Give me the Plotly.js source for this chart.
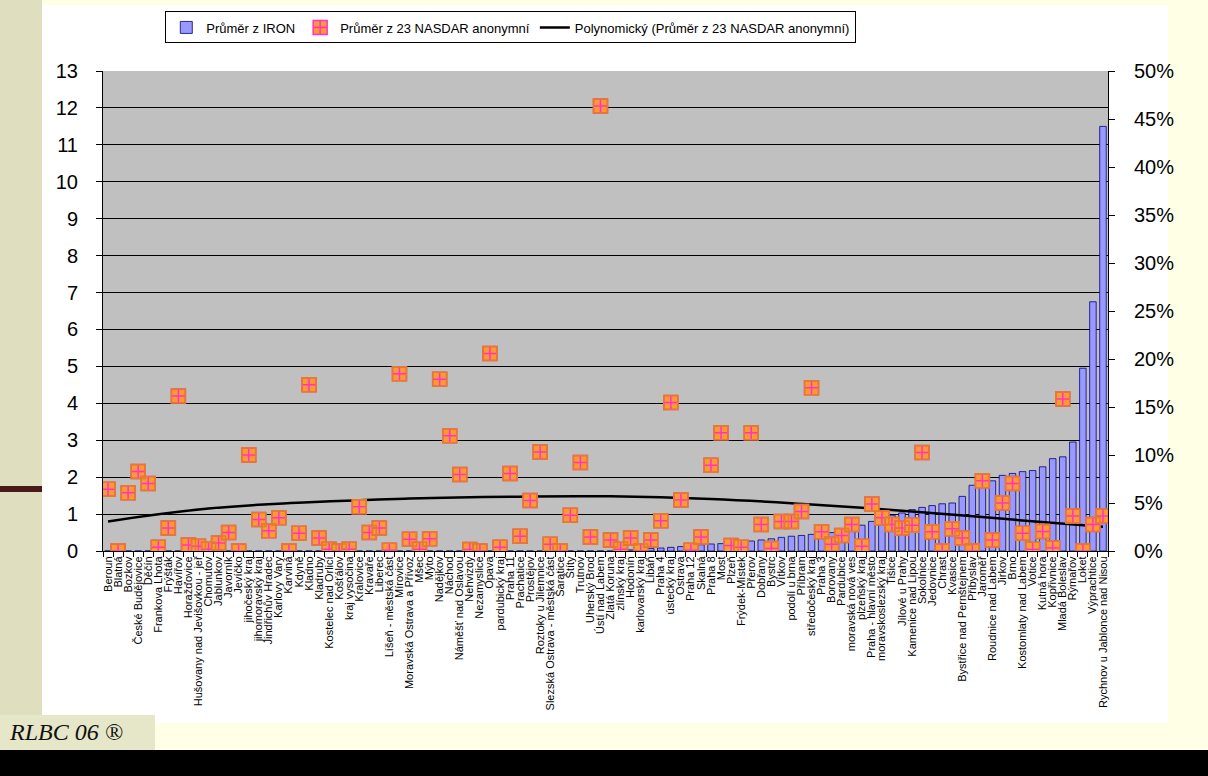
<!DOCTYPE html>
<html>
<head>
<meta charset="utf-8">
<script src="https://cdn.plot.ly/plotly-3.0.1.min.js"></script>
<style>
  html, body { margin:0; padding:0; width:1208px; height:776px; overflow:hidden; background:#FFFFE6; font-family:"Liberation Sans", Arial, sans-serif; }
  #strip { position:absolute; left:0; top:0; width:42px; height:715px; background:#DFDFC0; }
  #darkline { position:absolute; left:0; top:486px; width:42px; height:6px; background:#4A1A1A; }
  #white { position:absolute; left:42px; top:5px; width:1126px; height:718px; background:#FFFFFF; }
  #brand { position:absolute; left:0; top:715px; width:155px; height:35px; background:#E6E6C8; }
  #brandtxt { position:absolute; left:10px; top:719px; font-family:"Liberation Serif","DejaVu Serif",serif; font-style:italic; font-size:24px; color:#111; }
  #black { position:absolute; left:0; top:750px; width:1208px; height:26px; background:#000; }
  #chart { position:absolute; left:0; top:0; width:1208px; height:776px; }
</style>
</head>
<body>
<div id="strip"></div>
<div id="darkline"></div>
<div id="white"></div>
<div id="brand"></div>
<div id="brandtxt">RLBC 06 ®</div>
<div id="black"></div>
<div id="chart"></div>
<script>
const categories = ["Beroun","Blatná","Bozkov","České Budějovice","Děčín","Frankova Lhota","Frýšták","Havířov","Horažďovice","Hušovany nad Jevišovkou - jeř",
"Chomutov","Jablunkov","Javorník","Jevíčko","jihočeský kraj","jihomoravský kraj","Jindřichův Hradec","Karlovy Vary","Karviná","Kdyně",
"Kladno","Kladruby","Kostelec nad Orlicí","Košťálov","kraj vysočina","Kralovice","Kravaře","Liberec","Líšeň - městská část","Mírovice",
"Moravská Ostrava a Přívoz","Mšec","Mýto","Nadějkov","Náchod","Náměšť nad Oslavou","Nehvizdy","Nezamyslice","Opava","pardubický kraj",
"Praha 11","Prachatice","Prostějov","Roztoky u Jilemnice","Slezská Ostrava - městská část","Šaratice","Štíty","Trutnov","Uherský Brod","Ústí nad Labem",
"Zlatá Koruna","zlínský kraj","Hodonín","karlovarský kraj","Libáň","Praha 4","ústecký kraj","Ostrava","Praha 12","Skalná",
"Praha 8","Most","Plzeň","Frýdek-Místek","Přerov","Dobřany","Bystrc","Vítkov","podolí u brna","Příbram",
"středočeský kraj","Praha 3","Borovany","Pardubice","moravská nová ves","plzeňský kraj","Praha - hlavní město","moravskoslezský kraj","Tišice","Jílové u Prahy",
"Kamenice nad Lipou","Sokolnice","Jedovnice","Chrast","Kvasice","Bystřice nad Pernštejnem","Přibyslav","Jaroměř","Roudnice nad Labem","Jirkov",
"Brno","Kostomlaty nad Labem","Votice","Kutná hora","Kopřivnice","Mladá Boleslav","Rýmařov","Loket","Výprachtice","Rychnov u Jablonce nad Nisou"];

// Průměr z IRON (fraction, right axis)
const ironValues = [0,0,0,0,0,0,0,0,0,0,
0,0,0,0,0,0,0,0,0,0,
0,0,0,0,0,0,0,0,0,0,
0,0,0,0,0,0,0,0,0,0,
0,0,0,0,0,0,0,0,0,0,
0,0,0.0012,0.0019,0.0027,0.0031,0.0038,0.0046,0.0058,0.0065,
0.0073,0.0077,0.0085,0.0096,0.0104,0.0115,0.0127,0.0142,0.0154,0.0162,
0.0173,0.0181,0.0192,0.0212,0.0238,0.0269,0.0308,0.0346,0.0373,0.0396,
0.0431,0.0454,0.0473,0.0492,0.0500,0.0569,0.0685,0.0712,0.0731,0.0788,
0.0808,0.0827,0.0838,0.0877,0.0962,0.0981,0.1135,0.1904,0.2596,0.4423];

// Průměr z 23 NASDAR anonymní (left axis)
const nasdarValues = [1.67,0,1.58,2.15,1.83,0.1,0.62,4.2,0.16,0.13,
0.05,0.22,0.5,0,2.6,0.85,0.55,0.9,0,0.48,
4.5,0.35,0.05,0,0.05,1.2,0.5,0.62,0.02,4.8,
0.32,0.05,0.33,4.65,3.12,2.07,0.04,0,5.35,0.1,
2.1,0.4,1.37,2.68,0.18,0,0.97,2.4,0.38,12.05,
0.3,0.05,0.35,0,0.3,0.82,4.02,1.38,0.02,0.38,
2.32,3.2,0.15,0.1,3.2,0.72,0.07,0.8,0.8,1.07,
4.42,0.52,0.18,0.42,0.72,0.13,1.27,0.9,0.72,0.62,
0.7,2.67,0.52,0,0.6,0.35,0,1.9,0.3,1.3,
1.83,0.48,0.05,0.53,0.08,4.12,0.95,0,0.72,0.95];

// Polynomický trend (read at selected categories)
const trendCats = ["Beroun","Chomutov","Kladno","Moravská Ostrava a Přívoz","Praha 11","Zlatá Koruna","Praha 8","středočeský kraj","Kamenice nad Lipou","Brno","Rychnov u Jablonce nad Nisou"];
const trendValues = [0.8,1.15,1.32,1.42,1.47,1.48,1.41,1.26,1.07,0.85,0.66];

const leftTicks = [0,1,2,3,4,5,6,7,8,9,10,11,12,13];
const rightTicks = [0,0.05,0.10,0.15,0.20,0.25,0.30,0.35,0.40,0.45,0.50];

const FONT = '"Liberation Sans", Arial, sans-serif';

const traces = [
  {
    type:'bar', name:'Průměr z IRON', x:categories, y:ironValues, yaxis:'y',
    marker:{color:'#9999FF', line:{color:'#000080', width:0.8}},
    legendrank:1
  },
  {
    type:'scatter', mode:'lines', name:'Polynomický (Průměr z 23 NASDAR anonymní)',
    x:trendCats, y:trendValues, yaxis:'y2',
    line:{color:'#000000', width:2.5, shape:'spline', smoothing:1.3},
    legendrank:3
  },
  {
    type:'scatter', mode:'markers', name:'Průměr z 23 NASDAR anonymní',
    x:categories, y:nasdarValues, yaxis:'y2',
    marker:{symbol:'square-cross', size:14, color:'#FF9933', line:{color:'#FF33CC', width:1.5}},
    legendrank:2
  },
  {
    type:'scatter', mode:'markers', showlegend:false,
    x:categories, y:nasdarValues, yaxis:'y2',
    marker:{symbol:'square-open', size:14, color:'#E08020', line:{color:'#E08020', width:1.5}}
  }
];

const layout = {
  width:1208, height:776,
  margin:{l:103, r:100, t:68, b:225, pad:0},
  paper_bgcolor:'rgba(0,0,0,0)',
  plot_bgcolor:'#C0C0C0',
  font:{family:FONT, color:'#000'},
  showlegend:true,
  hovermode:false,
  bargap:0.35,
  legend:{
    orientation:'h', x:0.062, xanchor:'left', y:1.124, yanchor:'top',
    bgcolor:'#FFFFFF', bordercolor:'#000000', borderwidth:1,
    font:{family:FONT, size:13, color:'#000'},
    itemwidth:30, traceorder:'normal'
  },
  xaxis:{
    type:'category', categoryorder:'array', categoryarray:categories,
    range:[-0.5, categories.length - 0.5],
    tickmode:'array', tickvals:categories, ticktext:categories,
    tickangle:-90, tickfont:{family:FONT, size:11, color:'#000'},
    ticks:'outside', ticklen:5, tickcolor:'#000', tickson:'boundaries',
    showline:true, linecolor:'#000', linewidth:1, showgrid:false, zeroline:false,
    automargin:false
  },
  yaxis:{
    side:'right', range:[0,0.5], tickvals:rightTicks, tickformat:'.0%',
    tickfont:{family:FONT, size:20, color:'#000'},
    ticks:'outside', ticklen:6, tickcolor:'#000', ticklabelstandoff:15,
    showline:true, linecolor:'#000', linewidth:1, showgrid:false, zeroline:false,
    automargin:false
  },
  yaxis2:{
    overlaying:'y', side:'left', anchor:'x', range:[0,13], tickvals:leftTicks,
    tickfont:{family:FONT, size:20, color:'#000'},
    ticks:'outside', ticklen:6, tickcolor:'#000', ticklabelstandoff:14,
    showline:true, linecolor:'#000', linewidth:1,
    showgrid:true, gridcolor:'#000000', gridwidth:1, zeroline:false,
    automargin:false
  }
};

Plotly.newPlot('chart', traces, layout, {displayModeBar:false, staticPlot:true});
</script>
</body>
</html>
